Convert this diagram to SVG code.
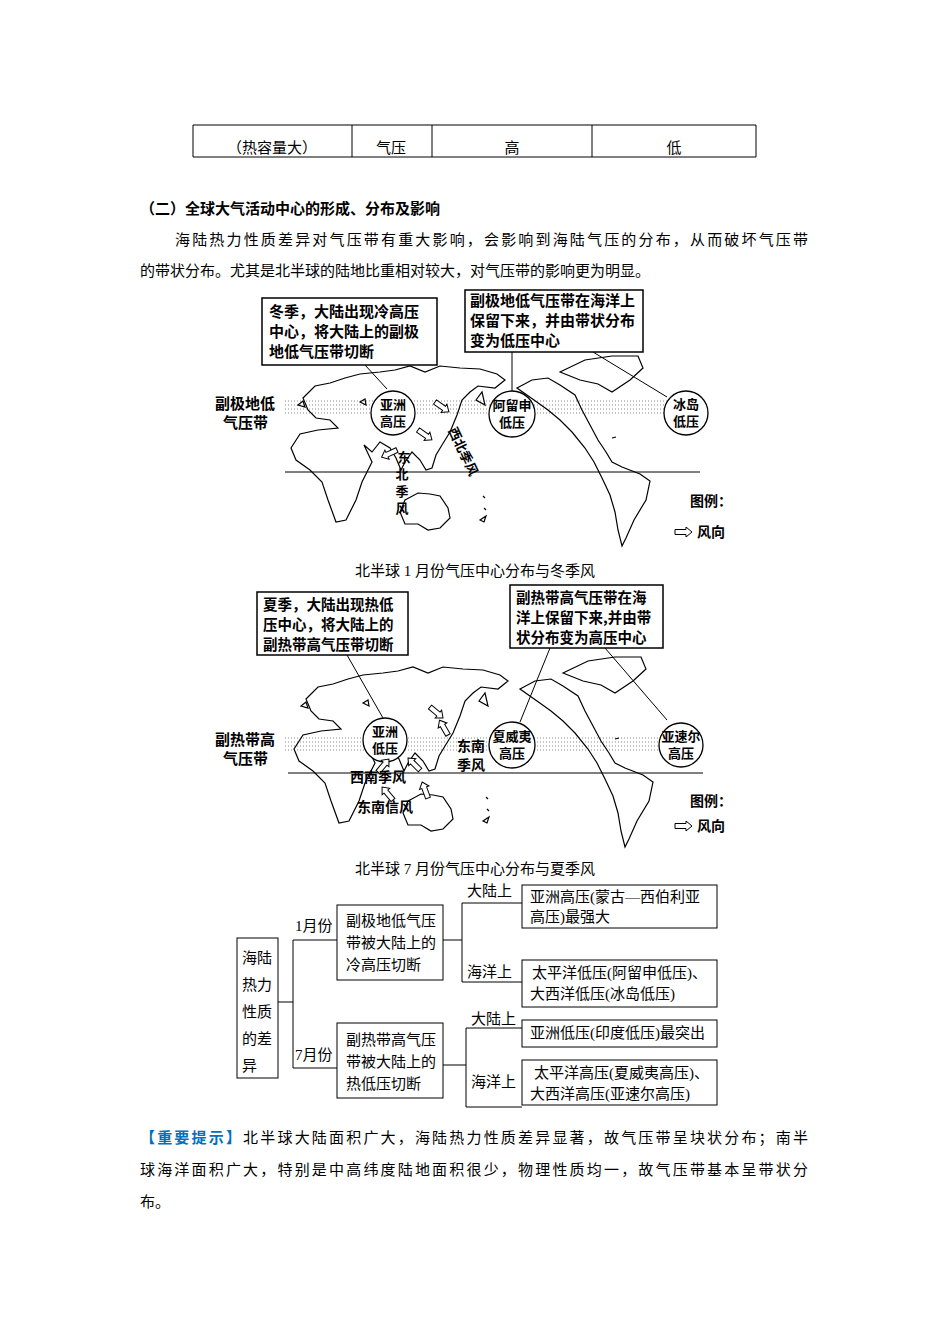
<svg xmlns="http://www.w3.org/2000/svg" width="950" height="1344" viewBox="0 0 950 1344">
<style>
text{font-family:"Liberation Serif","Noto Sans CJK SC",serif;font-size:15px;fill:#000}
.b{font-weight:bold}
.m{font-family:"Noto Sans CJK SC",sans-serif;font-size:14px;font-weight:bold}
.s{font-size:13px}
.bt{font-size:15px}
.bt2{font-size:14.5px}
.ln{stroke:#000;stroke-width:1;fill:none}
.bx{fill:#fff;stroke:#000;stroke-width:1.5}
.cs{fill:none;stroke:#000;stroke-width:1.2}
.dot{fill:none;stroke:#888;stroke-width:1;stroke-dasharray:1 2}
.c{fill:#fff;stroke:#000;stroke-width:1.3}
.ar{fill:#fff;stroke:#000;stroke-width:1}
</style>
<defs>
<path id="arr" class="ar" d="M0,-2.5H11V-5L17,0L11,5V2.5H0Z"/>
<g id="geo">
<path class="cs" d="M303,398 L315,386 L330,383 L345,378 L360,374 L380,372 L395,370 L410,366 L425,372 L440,366 L460,368 L480,369 L497,374 L505,380 L495,388 L478,386 L470,392 L462,400 L457,415 L450,432 L442,445 L436,455 L432,468 L426,470 L420,460 L412,452 L405,462 L401,470 L396,458 L390,448 L380,442 L372,452 L364,445 L372,462 L362,482 L356,500 L346,520 L336,522 L328,500 L322,482 L310,470 L296,460 L291,448 L300,434 L318,430 L338,428 L330,420 L316,418 L308,410 Z"/>
<path class="cs" d="M405,500 L418,493 L430,494 L440,496 L448,508 L450,518 L440,528 L428,530 L418,524 L405,524 L400,512 Z"/>
<path class="cs" d="M517,388 L532,380 L548,378 L560,385 L575,395 L582,410 L590,425 L598,440 L606,452 L612,462 L622,467 L640,474 L650,481 L646,500 L634,520 L626,538 L622,546 L618,530 L615,512 L610,495 L602,478 L594,462 L585,448 L572,432 L560,420 L548,410 L534,400 Z"/>
<path class="cs" d="M560,372 L585,360 L612,356 L638,356 L643,368 L630,380 L612,392 L598,384 L580,380 Z"/>
<path class="cs" d="M476,400 L482,392 L485,405 Z M298,405 l5,-4 l2,6 z M360,402 l5,-3 l1,6 z M483,496 l2,2 M484,508 l2,2 M480,520 l6,-4 l-2,6 z M612,438 l4,-1"/>
<line class="ln" x1="285" y1="472" x2="700" y2="472"/>
</g>
</defs>

<g id="table">
<path class="ln" d="M193,125H756M193,157H756M193,125V157M352,125V157M432,125V157M592,125V157M756,125V157"/>
<text x="272" y="153" text-anchor="middle">（热容量大）</text>
<text x="391" y="153" text-anchor="middle">气压</text>
<text x="512" y="153" text-anchor="middle">高</text>
<text x="674" y="153" text-anchor="middle">低</text>
</g>

<text x="140" y="214" class="b">（二）全球大气活动中心的形成、分布及影响</text>
<text x="175" y="245" textLength="633">海陆热力性质差异对气压带有重大影响，会影响到海陆气压的分布，从而破坏气压带</text>
<text x="140" y="276">的带状分布。尤其是北半球的陆地比重相对较大，对气压带的影响更为明显。</text>

<g id="map1">
<path class="dot" d="M285,401H700M285,405H700M285,409H700M285,413H700"/>
<use href="#geo"/>
<g class="connectors">
<line class="ln" x1="365" y1="365" x2="387" y2="389"/>
<line class="ln" x1="512" y1="352" x2="512" y2="391"/>
<line class="ln" x1="593" y1="352" x2="667" y2="397"/>
</g>
<g id="m1box1"><rect class="bx" x="262" y="298" width="175" height="67"/>
<text class="m bt" x="269" y="317">冬季，大陆出现冷高压</text><text class="m bt" x="269" y="337">中心，将大陆上的副极</text><text class="m bt" x="269" y="357">地低气压带切断</text></g>
<g id="m1box2"><rect class="bx" x="465" y="290" width="178" height="62"/>
<text class="m bt" x="470" y="306">副极地低气压带在海洋上</text><text class="m bt" x="470" y="326">保留下来，并由带状分布</text><text class="m bt" x="470" y="346">变为低压中心</text></g>
<text class="m bt" x="215" y="409">副极地低</text><text class="m bt" x="223" y="428">气压带</text>
<g id="c1"><circle class="c" cx="393" cy="413" r="22"/><text class="m s" x="393" y="409" text-anchor="middle">亚洲</text><text class="m s" x="393" y="426" text-anchor="middle">高压</text></g>
<g id="c2"><circle class="c" cx="512" cy="414" r="23"/><text class="m s" x="512" y="410" text-anchor="middle">阿留申</text><text class="m s" x="512" y="427" text-anchor="middle">低压</text></g>
<g id="c3"><circle class="c" cx="686" cy="413" r="22"/><text class="m s" x="686" y="409" text-anchor="middle">冰岛</text><text class="m s" x="686" y="426" text-anchor="middle">低压</text></g>
<use href="#arr" transform="translate(418,430) rotate(35)"/>
<use href="#arr" transform="translate(435,402) rotate(35)"/>
<use href="#arr" transform="translate(397,450) rotate(155)"/>
<text class="m s" transform="translate(448,430) rotate(65)">西北季风</text>
<text class="m s" x="404" y="462" text-anchor="middle">东</text><text class="m s" x="402" y="479" text-anchor="middle">北</text><text class="m s" x="402" y="496" text-anchor="middle">季</text><text class="m s" x="402" y="513" text-anchor="middle">风</text>
<text class="m" x="690" y="506">图例：</text>
<use href="#arr" transform="translate(675,532)"/><text class="m" x="697" y="537">风向</text>
</g>
<text x="475" y="576" text-anchor="middle">北半球 1 月份气压中心分布与冬季风</text>

<g id="map2">
<path class="dot" d="M285,738H700M285,742H700M285,746H700M285,750H700"/>
<use href="#geo" transform="translate(3,301)"/>
<g class="connectors">
<line class="ln" x1="347" y1="655" x2="383" y2="718"/>
<line class="ln" x1="550" y1="648" x2="520" y2="722"/>
<line class="ln" x1="605" y1="648" x2="667" y2="720"/>
</g>
<g id="m2box1"><rect class="bx" x="257" y="592" width="151" height="63"/>
<text class="m bt2" x="263" y="610">夏季，大陆出现热低</text><text class="m bt2" x="263" y="630">压中心，将大陆上的</text><text class="m bt2" x="263" y="650">副热带高气压带切断</text></g>
<g id="m2box2"><rect class="bx" x="510" y="585" width="153" height="63"/>
<text class="m bt2" x="516" y="603">副热带高气压带在海</text><text class="m bt2" x="516" y="623">洋上保留下来,并由带</text><text class="m bt2" x="516" y="643">状分布变为高压中心</text></g>
<text class="m bt" x="215" y="745">副热带高</text><text class="m bt" x="223" y="764">气压带</text>
<g id="c4"><circle class="c" cx="385" cy="740" r="22"/><text class="m s" x="385" y="736" text-anchor="middle">亚洲</text><text class="m s" x="385" y="753" text-anchor="middle">低压</text></g>
<g id="c5"><circle class="c" cx="512" cy="745" r="23"/><text class="m s" x="512" y="741" text-anchor="middle">夏威夷</text><text class="m s" x="512" y="758" text-anchor="middle">高压</text></g>
<g id="c6"><circle class="c" cx="681" cy="745" r="22"/><text class="m s" x="681" y="741" text-anchor="middle">亚速尔</text><text class="m s" x="681" y="758" text-anchor="middle">高压</text></g>
<use href="#arr" transform="translate(430,707) rotate(40)"/>
<use href="#arr" transform="translate(448,735) rotate(-120)"/>
<use href="#arr" transform="translate(378,772) rotate(-50)"/>
<use href="#arr" transform="translate(420,770) rotate(-135)"/>
<use href="#arr" transform="translate(393,800) rotate(-130)"/>
<use href="#arr" transform="translate(428,798) rotate(-110)"/>
<text class="m" x="457" y="751">东南</text><text class="m" x="457" y="770">季风</text>
<text class="m" x="350" y="782">西南季风</text>
<text class="m" x="357" y="812">东南信风</text>
<text class="m" x="690" y="806">图例：</text>
<use href="#arr" transform="translate(675,826)"/><text class="m" x="697" y="831">风向</text>
</g>
<text x="475" y="874" text-anchor="middle">北半球 7 月份气压中心分布与夏季风</text>

<g class="connectors">
<path class="ln" d="M278,1002H293M293,940V1068M293,940H337M293,1068H337"/>
<path class="ln" d="M443,940H462M462,903V982M462,903H522M462,982H522"/>
<path class="ln" d="M443,1065H466M466,1028V1107M466,1028H522M466,1107H522"/>
</g>
<g id="root"><rect class="ln" x="237" y="938" width="41" height="140"/>
<text x="242" y="963">海陆</text><text x="242" y="990">热力</text><text x="242" y="1017">性质</text><text x="242" y="1044">的差</text><text x="242" y="1071">异</text></g>
<text x="295" y="931">1月份</text><text x="295" y="1060">7月份</text>
<g id="nA"><rect class="ln" x="337" y="905" width="106" height="75"/>
<text x="346" y="926">副极地低气压</text><text x="346" y="948">带被大陆上的</text><text x="346" y="970">冷高压切断</text></g>
<g id="nB"><rect class="ln" x="337" y="1023" width="106" height="75"/>
<text x="346" y="1045">副热带高气压</text><text x="346" y="1067">带被大陆上的</text><text x="346" y="1089">热低压切断</text></g>
<text x="467" y="896">大陆上</text><text x="467" y="977">海洋上</text>
<text x="471" y="1024">大陆上</text><text x="471" y="1087">海洋上</text>
<g id="nC"><rect class="ln" x="522" y="885" width="195" height="43"/>
<text x="530" y="902">亚洲高压(蒙古—西伯利亚</text><text x="530" y="922">高压)最强大</text></g>
<g id="nD"><rect class="ln" x="522" y="960" width="195" height="47"/>
<text x="532" y="978">太平洋低压(阿留申低压)、</text><text x="530" y="999">大西洋低压(冰岛低压)</text></g>
<g id="nE"><rect class="ln" x="522" y="1020" width="195" height="27"/>
<text x="530" y="1038">亚洲低压(印度低压)最突出</text></g>
<g id="nF"><rect class="ln" x="522" y="1060" width="195" height="45"/>
<text x="534" y="1078">太平洋高压(夏威夷高压)、</text><text x="530" y="1099">大西洋高压(亚速尔高压)</text></g>

<text x="140" y="1143" textLength="668"><tspan class="b" style="fill:#0070C0">【重要提示】</tspan>北半球大陆面积广大，海陆热力性质差异显著，故气压带呈块状分布；南半</text>
<text x="140" y="1175" textLength="668">球海洋面积广大，特别是中高纬度陆地面积很少，物理性质均一，故气压带基本呈带状分</text>
<text x="140" y="1207">布。</text>
</svg>
